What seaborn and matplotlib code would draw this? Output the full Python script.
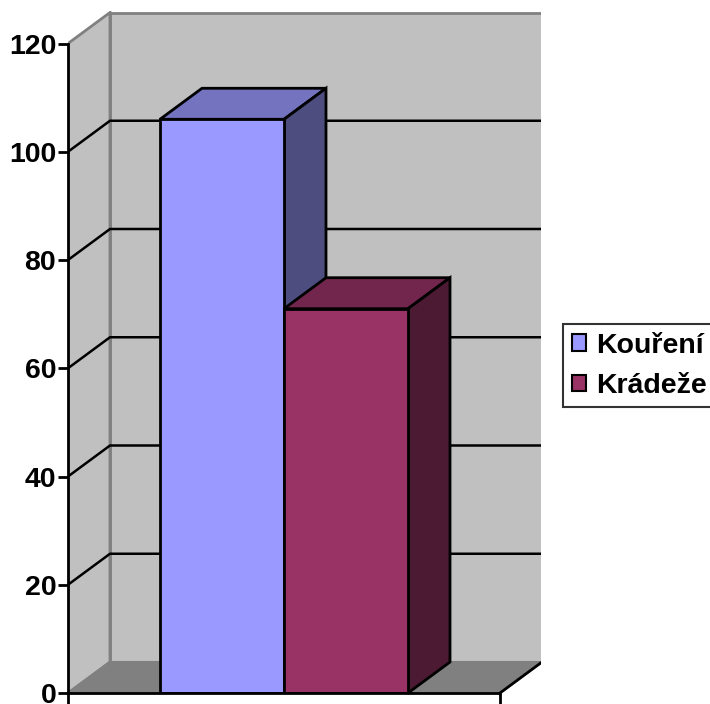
import matplotlib
matplotlib.use("Agg")
import matplotlib.pyplot as plt
from matplotlib.patches import Polygon, Rectangle, Patch
import numpy as np
import pandas as pd
import seaborn as sns

# ---- data ----
series = ["Kouření", "Krádeže"]
values = [106, 71]
y_ticks = [0, 20, 40, 60, 80, 100, 120]

front_colors = ["#9999FF", "#993366"]
top_colors = ["#7373C0", "#73264D"]
side_colors = ["#4D4D80", "#4D1A33"]
wall_color = "#C0C0C0"
floor_color = "#808080"
edge_gray = "#808080"

sns.set_theme(style="white")
plt.rcParams["font.family"] = ["Liberation Sans", "DejaVu Sans"]
plt.rcParams["font.weight"] = "bold"
plt.rcParams["text.color"] = "black"
plt.rcParams["ytick.color"] = "black"
plt.rcParams["xtick.color"] = "black"

FS = 20.5

W, H, DPI = 710, 704, 100
fig = plt.figure(figsize=(W / DPI, H / DPI), dpi=DPI)

# plot box in pixels: front axis at x=68, back wall right at 541, base y=693, top y=11
px_left, px_right, px_base, px_top = 68, 541, 693, 11
ax = fig.add_axes([px_left / W, 1 - px_base / H,
                   (px_right - px_left) / W, (px_base - px_top) / H])
ax.set_facecolor("none")

YMAX = 120
cat_px = 432.0                      # width of the category band in pixels
unit_px = (693 - 43.5) / YMAX       # pixels per value unit
DX_PX, DY_PX = 42, 31               # depth offset of the back plane
DX = DX_PX / cat_px
DY = DY_PX / unit_px

x_lo, x_hi = -0.5, 0.5
xlim = (x_lo, x_lo + (px_right - px_left) / cat_px)
ylim = (0, (px_base - px_top) / unit_px)

# ---- walls and floor ----
ax.add_patch(Rectangle((x_lo + DX, DY), x_hi - x_lo, YMAX, facecolor=wall_color,
                       edgecolor=edge_gray, lw=2, zorder=0))
ax.add_patch(Polygon([(x_lo, 0), (x_lo, YMAX), (x_lo + DX, YMAX + DY), (x_lo + DX, DY)],
                     closed=True, facecolor=wall_color, edgecolor=edge_gray, lw=2, zorder=0))
ax.add_patch(Polygon([(x_lo, 0), (x_hi, 0), (x_hi + DX, DY), (x_lo + DX, DY)],
                     closed=True, facecolor=floor_color, edgecolor=edge_gray, lw=1.5, zorder=0.5))
ax.plot([x_hi, x_hi + DX], [0, DY], color="black", lw=2, zorder=0.6,
        solid_capstyle="projecting")

# gridlines on the back and side walls
for t in y_ticks[1:-1]:
    ax.plot([x_lo, x_lo + DX, x_hi + DX], [t, t + DY, t + DY], color="black",
            lw=1.8, zorder=0.4)

# ---- bars (front faces from seaborn) ----
df = pd.DataFrame({"grp": [""] * len(series), "series": series, "value": values})
n_before = len(ax.patches)
sns.barplot(data=df, x="grp", y="value", hue="series", hue_order=series,
            palette=front_colors, width=248 / cat_px, dodge=True, saturation=1,
            edgecolor="black", linewidth=2, legend=False, ax=ax)
ax.set_xlim(*xlim)
ax.set_ylim(*ylim)

bars = sorted([p for p in ax.patches[n_before:] if p.get_height() > 0],
              key=lambda p: p.get_x())
for i, b in enumerate(bars):
    x0, w, h = b.get_x(), b.get_width(), b.get_height()
    top = Polygon([(x0, h), (x0 + DX, h + DY), (x0 + w + DX, h + DY), (x0 + w, h)],
                  closed=True, facecolor=top_colors[i], edgecolor="black", lw=2,
                  joinstyle="miter", zorder=2 + 2 * i)
    side = Polygon([(x0 + w, 0), (x0 + w, h), (x0 + w + DX, h + DY), (x0 + w + DX, DY)],
                   closed=True, facecolor=side_colors[i], edgecolor="black", lw=2,
                   joinstyle="miter", zorder=2 + 2 * i)
    ax.add_patch(top)
    ax.add_patch(side)
    b.set_zorder(3 + 2 * i)

# ---- axes ----
for s in ["top", "right"]:
    ax.spines[s].set_visible(False)
for s in ["left", "bottom"]:
    ax.spines[s].set_color("black")
    ax.spines[s].set_linewidth(2)
    ax.spines[s].set_zorder(6)
ax.spines["left"].set_bounds(0, YMAX)
ax.spines["bottom"].set_bounds(x_lo, x_hi)

ax.set_yticks(y_ticks)
ax.set_yticklabels([str(t) for t in y_ticks], fontsize=FS, fontweight="bold",
                   color="black")
ax.set_xticks([x_lo, x_hi])
ax.set_xticklabels(["", ""])
ax.tick_params(axis="y", direction="out", length=7, width=2, color="black",
               pad=1.5, left=True)
ax.tick_params(axis="x", direction="out", length=9, width=2, color="black",
               bottom=True)
ax.set_xlabel("")
ax.set_ylabel("")

# ---- legend ----
handles = [Patch(facecolor=c, edgecolor="black", lw=1.5) for c in front_colors]
leg = fig.legend(handles, series, loc="upper left",
                 bbox_to_anchor=(563 / W, 1 - 324 / H), bbox_transform=fig.transFigure,
                 frameon=True, fancybox=False, borderaxespad=0, borderpad=0.3,
                 handlelength=0.5, handleheight=0.5, handletextpad=0.35,
                 labelspacing=0.5, prop={"size": FS, "weight": "bold"})
leg.get_frame().set_edgecolor("black")
leg.get_frame().set_linewidth(1.5)
for txt in leg.get_texts():
    txt.set_color("black")

fig.savefig("out.png", dpi=DPI)
